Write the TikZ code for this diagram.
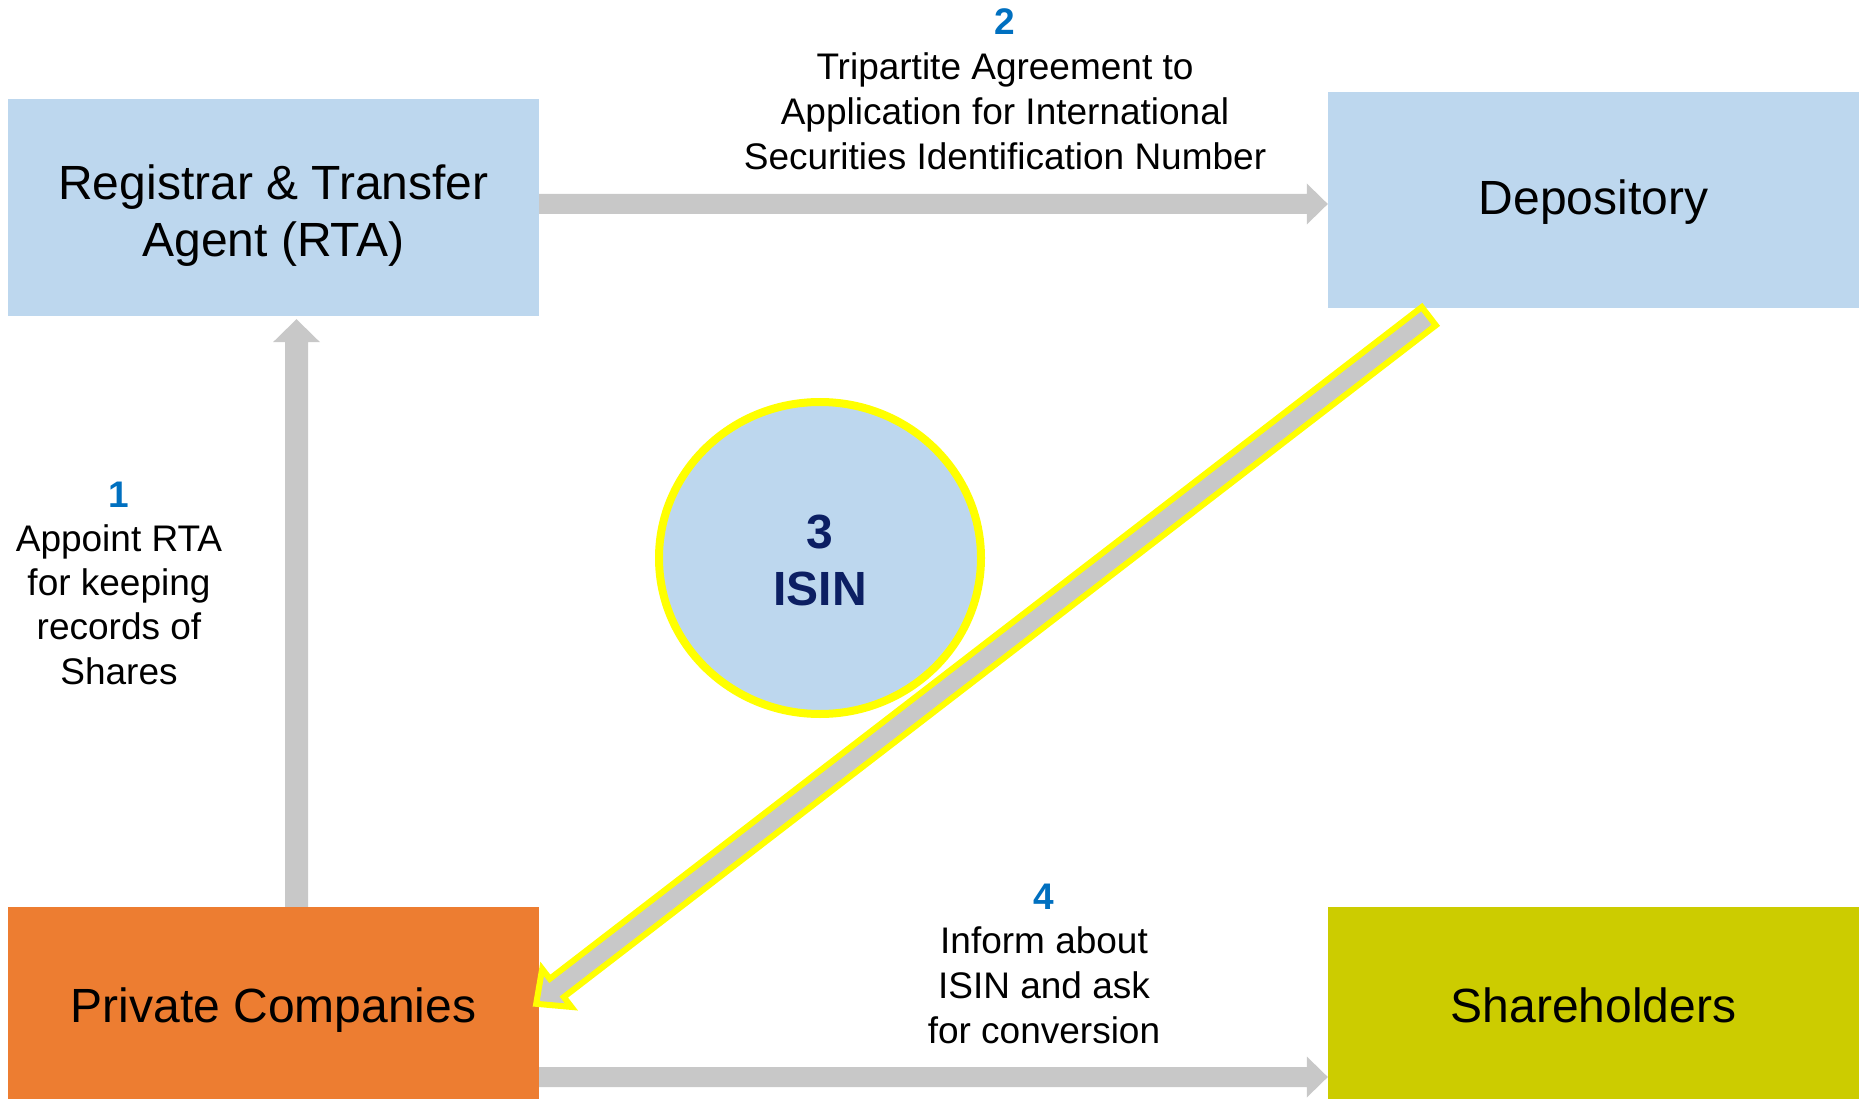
\documentclass[tikz,border=0pt]{standalone}
\usepackage{fontspec}
\setmainfont{Liberation Sans}
\usetikzlibrary{calc,shapes.geometric}
\definecolor{boxblue}{HTML}{BDD7EE}
\definecolor{pcorange}{HTML}{ED7D31}
\definecolor{shyellow}{HTML}{CCCC00}
\definecolor{arrowgrey}{HTML}{C8C8C8}
\definecolor{hiyellow}{HTML}{FFFF00}
\definecolor{numblue}{HTML}{0070C0}
\definecolor{navytext}{HTML}{0C1F63}
% #1 style, #2 tail, #3 tip, #4 shaft half width, #5 head half width, #6 head length
\newcommand{\blockarrow}[6]{%
  \path ($(#3)!#6!(#2)$) coordinate (ba-base);
  \path[#1] ($(#2)!#4!90:(#3)$) -- ($(ba-base)!#4!-90:(#2)$) -- ($(ba-base)!#5!-90:(#2)$)
    -- (#3) -- ($(ba-base)!#5!90:(#2)$) -- ($(ba-base)!#4!90:(#2)$) -- ($(#2)!#4!-90:(#3)$) -- cycle;
}
\begin{document}
\begin{tikzpicture}[x=1pt,y=-1pt,
  box/.style={rectangle, inner sep=0pt, minimum width=531pt, text=black,
    font={\fontsize{48}{57}\selectfont}},
  lab/.style={anchor=base, inner sep=0pt, text=black}]
\useasboundingbox (0,0) rectangle (1864,1099);
\fill[white] (0,0) rectangle (1864,1099);

% boxes
\node[box, fill=boxblue, minimum height=217pt, text height=0pt, text depth=15pt] (rta) at (273.5,207.5)
  {\begin{tabular}[t]{@{}c@{}}Registrar \& Transfer\\Agent (RTA)\end{tabular}};
\node[box, fill=boxblue, minimum height=216pt, text height=30pt, text depth=0pt] (dep) at (1593.5,200) {Depository};
\node[box, fill=pcorange, minimum height=192pt, text height=38pt, text depth=0pt] (pc) at (273.5,1003) {Private Companies};
\node[box, fill=shyellow, minimum height=192pt, text height=38pt, text depth=0pt] (sh) at (1593.5,1003) {Shareholders};

% ISIN circle
\node[ellipse, draw=hiyellow, line width=8pt, fill=boxblue, minimum width=322pt, minimum height=312pt,
  inner sep=0pt, text=navytext, font={\fontsize{48}{57}\selectfont\bfseries},
  text height=0pt, text depth=20pt] (isin) at (820,558)
  {\begin{tabular}[t]{@{}c@{}}3\\ISIN\end{tabular}};

% connector end points
\coordinate (a1s) at ($(pc.north)+(23,0)$);
\coordinate (a1e) at ($(rta.south)+(23,3)$);
\coordinate (a2s) at ($(rta.east)+(0,-3.5)$);
\coordinate (a2e) at ($(dep.west)+(0,4)$);
\coordinate (a4s) at ($(pc.east)+(0,74)$);
\coordinate (a4e) at ($(sh.west)+(0,74)$);
\coordinate (a3s) at ($(dep.south west)+(101,8)$);
\coordinate (a3e) at ($(pc.north east)+(-3,97)$);

% arrows
\blockarrow{fill=arrowgrey}{a1s}{a1e}{11.5pt}{23.5pt}{23pt}
\blockarrow{fill=arrowgrey}{a2s}{a2e}{10pt}{20.5pt}{21pt}
\blockarrow{fill=arrowgrey}{a4s}{a4e}{10pt}{20.5pt}{21pt}
\blockarrow{fill=arrowgrey, draw=hiyellow, line width=6pt, line join=miter}{a3s}{a3e}{11.5pt}{24pt}{26pt}

% labels
\node[lab, font={\fontsize{37}{45}\selectfont}] (lab2) at (1005,35)
  {\begin{tabular}[t]{@{}c@{}}{\bfseries\color{numblue}2}\\
   Tripartite Agreement to\\Application for International\\Securities Identification Number\end{tabular}};
\node[lab, font={\fontsize{37}{44.3}\selectfont}] (lab1) at (119,507)
  {\begin{tabular}[t]{@{}c@{}}{\bfseries\color{numblue}1}\\
   Appoint RTA\\for keeping\\records of\\Shares\end{tabular}};
\node[lab, font={\fontsize{37}{44.7}\selectfont}] (lab4) at (1044,909)
  {\begin{tabular}[t]{@{}c@{}}{\bfseries\color{numblue}4}\\
   Inform about\\ISIN and ask\\for conversion\end{tabular}};
\end{tikzpicture}
\end{document}
